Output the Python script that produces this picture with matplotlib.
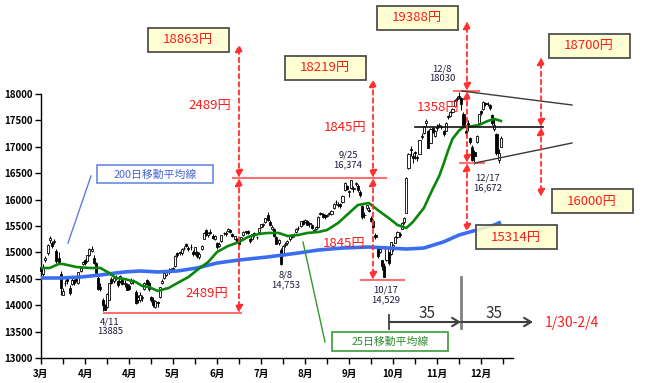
import matplotlib
matplotlib.use('Agg')
import matplotlib.pyplot as plt
from matplotlib.patches import Rectangle
import numpy as np

plt.rcParams['font.family'] = ['Noto Sans CJK JP', 'DejaVu Sans']

# ---------------- data (daily candles, Mar 3 2014 .. Jan 8 2015) ----------------
opens = [
    14720,14600,14860,14980,15230,15180,15190,15030,14900,14600,14200,14420,14500,14330,14400,14480,14500,14420,14650,14780,
    14850,14840,14950,15030,14900,14800,14520,14350,14100,14000,13970,14100,14500,14450,14530,14450,14460,14470,14400,14400,
    14370,14420,14480,14250,14100,14100,14130,14300,14480,14420,14150,14100,13970,14050,14150,14420,14520,14580,14630,14640,14700,
    14740,14980,15000,14980,15090,15150,15070,15110,15000,15000,15000,14920,15070,15260,15420,15330,15380,15320,15260,15180,15120,
    15220,15360,15370,15400,15420,15350,15250,15260,15200,15260,15330,15400,15400,15250,15250,15370,15300,15380,15480,15510,15570,15700,
    15580,15450,15450,15300,15180,15050,14950,15140,15180,15250,15300,15330,15380,15470,15500,15600,15580,15600,15550,15520,15400,
    15450,15480,15730,15720,15700,15690,15720,15720,15850,15950,15900,15920,15950,16180,16250,16140,16220,16200,16300,16250,
    16150,15880,15700,15850,15800,15650,15600,15330,15100,15000,14850,14750,14850,15000,14970,15060,15180,15300,15350,15450,15580,15750,
    16600,16960,16830,16910,16810,16870,17190,17260,17450,17300,17080,17350,17200,17380,17400,17370,17300,17300,
    17560,17580,17660,17780,17900,17960,17930,17620,17300,17450,17160,17000,16900,17100,17460,17670,17720,17830,17810,17800,17600,
    17330,17250,16750,17000]
highs = [
    14760,14780,14930,15150,15312,15210,15260,15060,15000,14640,14330,14470,14560,14380,14510,14500,14560,14630,14740,14840,
    14880,14950,15080,15130,14950,14820,14560,14420,14140,14020,14240,14420,14540,14530,14570,14470,14580,14500,14470,14420,
    14400,14510,14500,14280,14200,14250,14190,14440,14500,14460,14170,14150,14090,14080,14350,14490,14620,14650,14700,14700,14720,
    14950,15010,15020,15080,15130,15180,15120,15150,15040,15100,15030,15000,15140,15380,15440,15390,15440,15340,15330,15200,15190,
    15330,15380,15400,15460,15440,15360,15310,15270,15230,15300,15400,15410,15420,15280,15350,15390,15320,15470,15540,15560,15660,15760,
    15620,15520,15470,15310,15250,15080,15140,15200,15230,15330,15340,15360,15460,15500,15600,15610,15630,15620,15570,15530,15450,
    15500,15680,15760,15740,15720,15730,15760,15800,15930,15990,15950,15940,16090,16330,16280,16190,16374,16260,16330,16290,
    16180,15900,15760,15900,15860,15680,15640,15360,15110,15120,14860,14790,15120,15010,15200,15150,15310,15400,15380,15570,15670,16420,
    16880,17010,16880,16920,16850,17130,17260,17400,17520,17310,17350,17390,17310,17440,17460,17420,17320,17470,
    17610,17680,17730,17900,17960,18030,17940,17650,17340,17500,17180,17040,16940,17230,17630,17700,17870,17850,17840,17820,17620,
    17540,17260,16950,17200]
lows = [
    14640,14560,14820,14960,15180,15080,15150,14800,14780,14200,14200,14360,14400,14200,14380,14390,14440,14400,14620,14760,
    14760,14820,14930,15000,14780,14580,14280,14260,13885,13900,13950,14100,14400,14420,14480,14350,14420,14380,14340,14280,
    14280,14400,14400,14020,14050,14060,14080,14280,14390,14260,14060,13970,13950,13960,14140,14400,14500,14560,14600,14630,14620,
    14730,14920,14950,14960,15050,15100,15030,15050,14930,14960,14900,14870,15050,15250,15320,15290,15350,15250,15230,15070,15110,
    15200,15330,15320,15390,15370,15290,15230,15190,15130,15230,15310,15350,15350,15180,15240,15300,15260,15370,15460,15490,15550,15600,
    15500,15420,15300,15150,15140,14753,14930,15100,15140,15220,15270,15290,15370,15430,15490,15520,15560,15510,15480,15440,15380,
    15420,15470,15700,15650,15640,15670,15700,15700,15830,15900,15860,15850,15940,16170,16180,16050,16210,16150,16250,16150,
    16050,15640,15650,15800,15760,15580,15470,15260,14900,14990,14670,14529,14840,14760,14960,15030,15170,15280,15290,15440,15540,15740,
    16580,16820,16700,16760,16740,16860,17140,17240,17400,16970,17070,17260,17180,17300,17370,17340,17200,17290,
    17530,17560,17640,17760,17870,17900,17700,17400,17200,17300,17050,16730,16672,17080,17450,17610,17700,17780,17780,17700,17420,
    17300,16850,16700,16990]
closes = [
    14652,14721,14897,15134,15274,15120,15224,14830,14815,14327,14277,14411,14462,14224,14475,14423,14477,14622,14696,14827,
    14791,14946,15071,15063,14808,14607,14299,14300,14012,13910,14203,14418,14417,14516,14512,14388,14546,14404,14429,14288,
    14304,14485,14457,14033,14163,14199,14149,14425,14405,14298,14096,14006,14075,14042,14337,14462,14602,14636,14670,14681,14632,
    14935,14953,14985,15068,15077,15124,15069,15098,14973,15097,14933,14975,15115,15361,15349,15369,15376,15266,15308,15095,15162,
    15326,15369,15348,15437,15379,15314,15302,15216,15164,15296,15395,15379,15370,15215,15343,15328,15284,15457,15529,15529,15646,15620,
    15523,15474,15320,15159,15232,14778,15130,15161,15213,15314,15318,15322,15449,15454,15586,15539,15613,15521,15534,15459,15424,
    15476,15668,15728,15676,15668,15705,15749,15788,15909,15948,15911,15888,16067,16321,16205,16167,16374,16229,16310,16173,
    16082,15661,15708,15890,15783,15595,15478,15300,14936,15073,14738,14532,15111,14804,15195,15138,15291,15388,15329,15553,15658,16413,
    16862,16937,16792,16880,16780,17124,17197,17392,17490,16973,17344,17288,17300,17357,17407,17383,17248,17459,
    17590,17663,17720,17887,17920,17935,17813,17412,17257,17371,17099,16755,16819,17210,17621,17635,17854,17818,17818,17729,17450,
    17408,16883,16885,17167]

# 25-day moving average
ma25_days = [0,4,8,10,16,22,27,31,34,38,43,46,49,53,58,62,67,71,76,80,85,90,94,99,103,108,112,117,121,126,
             130,135,140,144,149,153,158,162,166,169,174,178,181,183,185,187,190,192,194,199,203,206,209]
ma25_vals = [14705,14705,14780,14780,14724,14705,14705,14610,14515,14496,14440,14364,14345,14270,14326,14420,14534,
             14667,14818,15008,15121,15197,15292,15349,15368,15368,15311,15330,15368,15386,15424,15557,15746,15898,
             15936,15803,15652,15519,15462,15576,15841,16200,16450,16680,16930,17150,17310,17375,17375,17413,17489,17527,17489]
# 200-day moving average
ma200_days = [0,9,18,27,34,38,45,53,62,71,80,90,103,117,126,137,149,158,166,174,183,190,198,206,209]
ma200_vals = [14515,14515,14534,14572,14610,14629,14648,14629,14648,14705,14799,14856,14913,14989,15045,15083,
              15102,15083,15064,15083,15200,15330,15424,15519,15576]

x_tick_labels = ['3月','4月','4月','5月','6月','7月','8月','9月','10月','11月','12月']
y_ticks = list(range(13000, 18001, 500))

# annotation texts
box_labels = ['18863円','18219円','19388円','18700円','16000円','15314円']
diff_labels = ['2489円','2489円','1845円','1845円','1358円']
note_dates = ['4/11','8/8','9/25','10/17','12/8','12/17']
note_values = ['13885','14,753','16,374','14,529','18030','16,672']

assert len(opens) == len(highs) == len(lows) == len(closes)

# ---------------- figure ----------------
W, H = 645, 383
fig = plt.figure(figsize=(W/100, H/100), dpi=100)
fig.patch.set_facecolor('white')
ax = fig.add_axes([41/W, (H-358)/H, 472/W, 264/H])

o = np.array(opens, float); hi = np.array(highs, float)
lo = np.array(lows, float); c = np.array(closes, float)
days = np.arange(len(c))
up = c >= o
bottoms = np.minimum(o, c)
heights = np.maximum(np.abs(c - o), 10)

ax.vlines(days, lo, hi, color='black', lw=0.7, zorder=2, clip_on=False)
ax.bar(days[up], heights[up], bottom=bottoms[up], width=0.95, color='white',
       edgecolor='black', linewidth=0.6, zorder=3, clip_on=False)
ax.bar(days[~up], heights[~up], bottom=bottoms[~up], width=0.95, color='black',
       edgecolor='black', linewidth=0.6, zorder=3, clip_on=False)

ax.plot(ma200_days, ma200_vals, color='#3a6df0', lw=2.6, zorder=4, solid_capstyle='butt')
ax.plot(ma25_days, ma25_vals, color='#0a870a', lw=1.9, zorder=5)

ax.set_xlim(0, 214.5)
ax.set_ylim(13000, 18000)
ax.set_yticks(y_ticks)
ax.set_yticklabels([str(v) for v in y_ticks], fontsize=7, fontweight='bold')
xt = list(range(0, 211, 10))
ax.set_xticks(xt)
ax.set_xticklabels([x_tick_labels[d // 20] if d % 20 == 0 else '' for d in xt],
                   fontsize=7, fontweight='bold')
ax.tick_params(axis='both', direction='out', length=4, width=1, colors='black', pad=2)
ax.tick_params(axis='x', pad=4)
for s in ['top', 'right']:
    ax.spines[s].set_visible(False)
for s in ['left', 'bottom']:
    ax.spines[s].set_linewidth(1.0)
ax.set_facecolor('none')

# ---------------- overlay in pixel coordinates ----------------
ov = fig.add_axes([0, 0, 1, 1], zorder=10)
ov.set_xlim(0, W); ov.set_ylim(H, 0); ov.axis('off')
ov.patch.set_alpha(0)

RED = '#FF1A1A'
PINK = '#FF7070'

# horizontal red level lines
for (x0, x1, y) in [(103, 242, 313), (232, 387, 178), (360, 405, 280), (453, 480, 91), (459, 485, 163)]:
    ov.plot([x0, x1], [y, y], color=PINK, lw=1.5, solid_capstyle='butt')

def varrow(x, y0, y1):
    ov.annotate('', xy=(x, y1), xytext=(x, y0),
                arrowprops=dict(arrowstyle='<|-|>,head_length=0.45,head_width=0.22',
                                color='#FF3030', lw=1.3, linestyle=(0, (2.5, 2)),
                                shrinkA=0, shrinkB=0, mutation_scale=10))

for seg in [(239, 178, 44), (239, 178, 313), (373, 178, 79), (373, 178, 280),
            (467, 91, 21), (467, 91, 163), (467, 163, 232), (541, 127, 57), (541, 127, 197)]:
    varrow(*seg)

# black trend / level lines
ov.plot([462, 572], [91, 105], color='#3a3a3a', lw=1.0)
ov.plot([475, 572], [163, 143], color='#3a3a3a', lw=1.0)
ov.plot([415, 543], [127, 127], color='#111111', lw=1.2)

# yellow target boxes
box_pos = [(188, 40), (325, 68), (417, 18), (589, 46), (592, 201), (516, 237)]
for (cx, cy), t in zip(box_pos, box_labels):
    ov.add_patch(Rectangle((cx - 40.5, cy - 12), 81, 24, facecolor=(1, 1, 0.8, 0.85),
                           edgecolor='#505050', lw=1.3, zorder=5))
    ov.text(cx, cy, t, color=RED, fontsize=9.5, ha='center', va='center', zorder=6)

# difference labels
for (cx, cy), t in zip([(210, 105), (207, 294), (345, 127), (344, 243), (438, 107)], diff_labels):
    ov.text(cx, cy, t, color=RED, fontsize=9.5, ha='center', va='center', zorder=6)

# date / value notes
note_pos = [(110, 322), (286, 275), (348, 155), (386, 290), (442, 69), (488, 178)]
for (cx, cy), d, v in zip(note_pos, note_dates, note_values):
    ov.text(cx, cy, d, color='#1a1a3a', fontsize=6.8, ha='center', va='center')
    ov.text(cx, cy + 9.5, v, color='#1a1a3a', fontsize=6.8, ha='center', va='center')

# moving-average label boxes
ov.plot([91, 68], [176, 243], color='#5a7fe0', lw=1.0)
ov.add_patch(Rectangle((97, 165), 116, 18, facecolor='white', edgecolor='#6a8ae0', lw=1.2))
ov.text(155, 174.5, '200日移動平均線', color='#4466d0', fontsize=7.8, ha='center', va='center')

ov.plot([303, 325], [242, 342], color='#2e9a2e', lw=1.0)
ov.add_patch(Rectangle((332, 332), 116, 19, facecolor='white', edgecolor='#3c9c3c', lw=1.2))
ov.text(390, 342, '25日移動平均線', color='#2e8b2e', fontsize=7.8, ha='center', va='center')

# 35-day cycle arrows
ov.plot([461, 461], [277, 328], color='#808080', lw=2.0)
ov.plot([389, 389], [315, 329], color='#404040', lw=1.3)
for (x0, x1) in [(389, 461), (461, 533)]:
    ov.annotate('', xy=(x1, 322), xytext=(x0, 322),
                arrowprops=dict(arrowstyle='->,head_length=0.5,head_width=0.3', color='#404040',
                                lw=1.5, shrinkA=0, shrinkB=0, mutation_scale=10))
ov.text(427, 313, '35', color='#333333', fontsize=11, ha='center', va='center')
ov.text(494, 313, '35', color='#333333', fontsize=11, ha='center', va='center')
ov.text(572, 323, '1/30-2/4', color=RED, fontsize=10, ha='center', va='center')

fig.savefig('out.png', dpi=100, facecolor='white')
